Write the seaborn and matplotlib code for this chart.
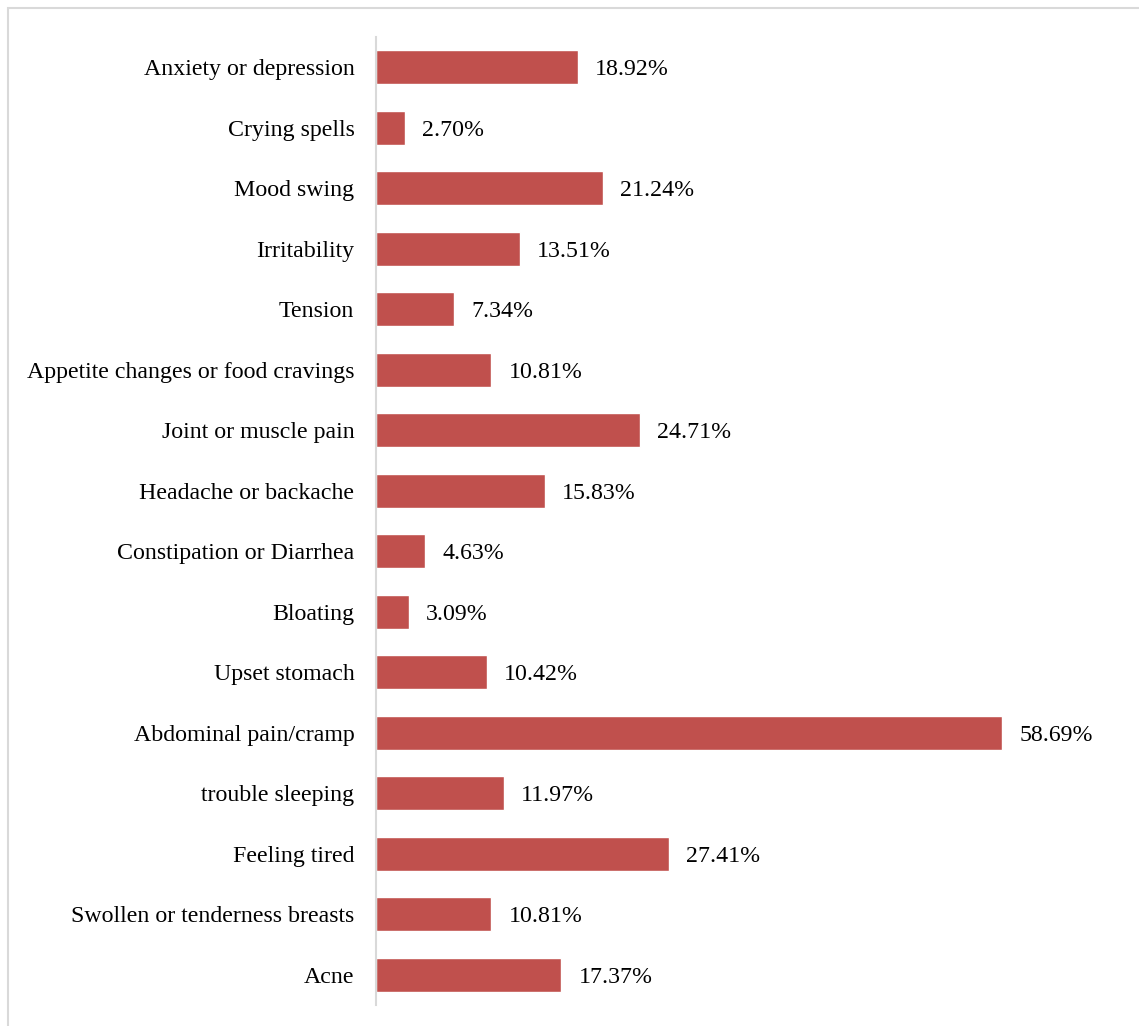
import matplotlib
matplotlib.use("Agg")
import matplotlib.pyplot as plt
import seaborn as sns
import pandas as pd
from matplotlib.patches import Rectangle

symptoms = [
    "Anxiety or depression", "Crying spells", "Mood swing", "Irritability",
    "Tension", "Appetite changes or food cravings", "Joint or muscle pain",
    "Headache or backache", "Constipation or Diarrhea", "Bloating",
    "Upset stomach", "Abdominal pain/cramp", "trouble sleeping",
    "Feeling tired", "Swollen or tenderness breasts", "Acne",
]
percent = [18.92, 2.70, 21.24, 13.51, 7.34, 10.81, 24.71, 15.83, 4.63, 3.09,
           10.42, 58.69, 11.97, 27.41, 10.81, 17.37]

df = pd.DataFrame({"symptom": symptoms, "percent": percent})

sns.set_theme(style="white")
plt.rcParams["font.family"] = ["Liberation Serif", "DejaVu Serif"]

W, H = 1139, 1026
fig = plt.figure(figsize=(W / 100, H / 100), dpi=100)
ax = fig.add_axes([376 / W, 1 - 1005 / H, (1123 - 376) / W, (1005 - 37) / H])

sns.barplot(data=df, x="percent", y="symptom", color="#C0504D",
            saturation=1, width=0.56, ax=ax, orient="h")

ax.set_xlim(0, 70)
ax.set_ylim(15.5, -0.5)
ax.set_xlabel("")
ax.set_ylabel("")
ax.set_xticks([])
ax.tick_params(axis="y", length=0, pad=15.5, labelsize=17.2, labelcolor="black")
for side in ["top", "right", "bottom"]:
    ax.spines[side].set_visible(False)
ax.spines["left"].set_color("#D9D9D9")
ax.spines["left"].set_linewidth(1.5)

for bar, v in zip(ax.patches, percent):
    y = bar.get_y() + bar.get_height() / 2
    ax.text(bar.get_width() + 1.6, y + 0.04, f"{v:.2f}%", va="center", ha="left",
            fontsize=17.2, color="black")

# light frame around the chart area
fig.patches.append(Rectangle((8 / W, -0.1), 1.2, 1.1 - 8 / H, transform=fig.transFigure,
                             fill=False, edgecolor="#D9D9D9", linewidth=1.5))

fig.savefig("out.png", dpi=100, facecolor="white")
